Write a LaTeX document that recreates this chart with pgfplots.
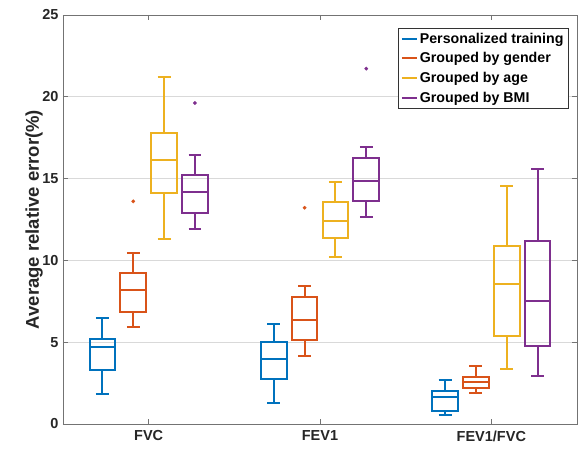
\documentclass[border=0pt]{standalone}
\usepackage{pgfplots}
\pgfplotsset{compat=1.18}
\usepgfplotslibrary{statistics}
\usepackage{fontspec}
\setmainfont{Liberation Sans}
\definecolor{c1}{HTML}{0072BD}
\definecolor{c2}{HTML}{D95319}
\definecolor{c3}{HTML}{EDB120}
\definecolor{c4}{HTML}{7E2F8E}
\definecolor{txt}{HTML}{262626}
\begin{document}
\begin{tikzpicture}
\begin{axis}[
  scale only axis, width=514pt, height=409pt,
  xmin=0.5, xmax=3.5, ymin=0, ymax=25,
  xtick={1,2,3}, xticklabels={FVC,FEV1,FEV1/FVC},
  ytick={0,5,10,15,20,25},
  tick align=inside, major tick length=5pt,
  tick style={black!55, line width=0.6pt},
  axis line style={black!55, line width=0.8pt},
  ymajorgrids, grid style={black!15, line width=0.6pt},
  /pgf/number format/assume math mode=true,
  ticklabel style={font=\bfseries\fontsize{14.5}{16}\selectfont, text=txt},
  xticklabel style={yshift=-3pt},
  yticklabel style={xshift=-1pt},
  ylabel={Average relative error(\%)},
  ylabel style={font=\bfseries\fontsize{18.5}{20}\selectfont, text=txt,
    at={(rel axis cs:0,0.5)}, anchor=base, yshift=24pt},
  every axis plot/.append style={line width=2pt},
  boxplot/draw direction=y,
  boxplot/box extend=0.15,
  boxplot/whisker extend=0.075,
  boxplot/every box/.style={draw, line width=2pt},
  boxplot/every whisker/.style={line width=2pt},
  boxplot/every median/.style={line width=2pt},
  legend style={at={(0.984,0.969)}, anchor=north east, draw=black!80, line width=0.6pt,
    font=\bfseries\fontsize{14.2}{16}\selectfont, row sep=3.8pt, inner sep=3pt, text=black},
  legend cell align=left,
  legend image code/.code={\draw[#1, line width=2pt] (0pt,0pt) -- (15pt,0pt);},
]
\path (rel axis cs:0,0) coordinate (ll) (rel axis cs:1,1) coordinate (ur);
% FVC
\addplot+[forget plot, c1, solid, mark=*, mark size=1.6pt, mark options={fill=c1, draw=c1, line width=0.5pt},
  boxplot prepared={draw position=0.73, lower whisker=1.81, lower quartile=3.30, median=4.73, upper quartile=5.20, upper whisker=6.46}] coordinates {};
\addplot+[forget plot, c2, solid, mark=*, mark size=1.6pt, mark options={fill=c2, draw=c2, line width=0.5pt},
  boxplot prepared={draw position=0.91, lower whisker=5.92, lower quartile=6.87, median=8.19, upper quartile=9.21, upper whisker=10.43}] table[row sep=\\, y index=0] {13.61\\};
\addplot+[forget plot, c3, solid, mark=*, mark size=1.6pt, mark options={fill=c3, draw=c3, line width=0.5pt},
  boxplot prepared={draw position=1.09, lower whisker=11.31, lower quartile=14.14, median=16.12, upper quartile=17.77, upper whisker=21.23}] coordinates {};
\addplot+[forget plot, c4, solid, mark=*, mark size=1.6pt, mark options={fill=c4, draw=c4, line width=0.5pt},
  boxplot prepared={draw position=1.27, lower whisker=11.92, lower quartile=12.92, median=14.20, upper quartile=15.22, upper whisker=16.42}] table[row sep=\\, y index=0] {19.62\\};
% FEV1
\addplot+[forget plot, c1, solid, mark=*, mark size=1.6pt, mark options={fill=c1, draw=c1, line width=0.5pt},
  boxplot prepared={draw position=1.73, lower whisker=1.27, lower quartile=2.73, median=3.95, upper quartile=5.03, upper whisker=6.11}] coordinates {};
\addplot+[forget plot, c2, solid, mark=*, mark size=1.6pt, mark options={fill=c2, draw=c2, line width=0.5pt},
  boxplot prepared={draw position=1.91, lower whisker=4.16, lower quartile=5.13, median=6.36, upper quartile=7.74, upper whisker=8.44}] table[row sep=\\, y index=0] {13.22\\};
\addplot+[forget plot, c3, solid, mark=*, mark size=1.6pt, mark options={fill=c3, draw=c3, line width=0.5pt},
  boxplot prepared={draw position=2.09, lower whisker=10.23, lower quartile=11.39, median=12.43, upper quartile=13.55, upper whisker=14.81}] coordinates {};
\addplot+[forget plot, c4, solid, mark=*, mark size=1.6pt, mark options={fill=c4, draw=c4, line width=0.5pt},
  boxplot prepared={draw position=2.27, lower whisker=12.67, lower quartile=13.61, median=14.85, upper quartile=16.26, upper whisker=16.95}] table[row sep=\\, y index=0] {21.72\\};
% FEV1/FVC
\addplot+[forget plot, c1, solid, mark=*, mark size=1.6pt, mark options={fill=c1, draw=c1, line width=0.5pt},
  boxplot prepared={draw position=2.73, lower whisker=0.55, lower quartile=0.81, median=1.67, upper quartile=2.04, upper whisker=2.69}] coordinates {};
\addplot+[forget plot, c2, solid, mark=*, mark size=1.6pt, mark options={fill=c2, draw=c2, line width=0.5pt},
  boxplot prepared={draw position=2.91, lower whisker=1.91, lower quartile=2.18, median=2.55, upper quartile=2.89, upper whisker=3.55}] coordinates {};
\addplot+[forget plot, c3, solid, mark=*, mark size=1.6pt, mark options={fill=c3, draw=c3, line width=0.5pt},
  boxplot prepared={draw position=3.09, lower whisker=3.34, lower quartile=5.40, median=8.54, upper quartile=10.90, upper whisker=14.55}] coordinates {};
\addplot+[forget plot, c4, solid, mark=*, mark size=1.6pt, mark options={fill=c4, draw=c4, line width=0.5pt},
  boxplot prepared={draw position=3.27, lower whisker=2.93, lower quartile=4.77, median=7.52, upper quartile=11.19, upper whisker=15.57}] coordinates {};
\addlegendimage{c1}\addlegendentry{Personalized training}
\addlegendimage{c2}\addlegendentry{Grouped by gender}
\addlegendimage{c3}\addlegendentry{Grouped by age}
\addlegendimage{c4}\addlegendentry{Grouped by BMI}
\end{axis}
\pgfresetboundingbox
\path ([xshift=-63pt,yshift=-25pt]ll) rectangle ([xshift=2pt,yshift=15pt]ur);
\end{tikzpicture}
\end{document}
